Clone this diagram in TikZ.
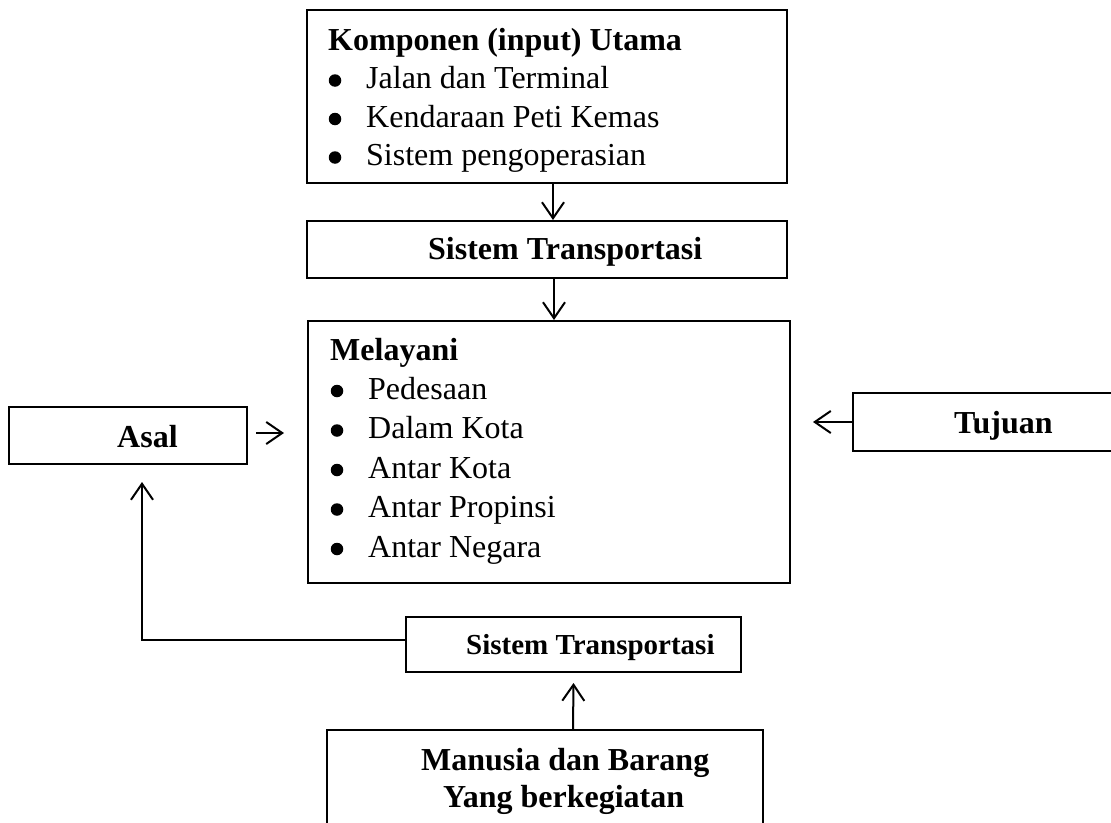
\documentclass[tikz,border=0pt]{standalone}
\usepackage{fontspec}
\setmainfont{Liberation Serif}
\usetikzlibrary{arrows.meta}
\begin{document}
\begin{tikzpicture}[x=1pt,y=-1pt,
  box/.style={draw, line width=2pt, inner sep=0pt},
  txt/.style={anchor=base west, inner sep=0pt, font=\fontsize{32}{38}\selectfont},
  bold/.style={txt, font=\fontsize{32}{38}\selectfont\bfseries},
  boldsmall/.style={txt, font=\fontsize{29}{35}\selectfont\bfseries},
  dot/.style={circle, fill, inner sep=0pt, minimum size=12.5pt, yshift=8pt},
  arr/.style={line width=2pt, -{Straight Barb[length=16pt,width=22pt,line width=2pt]}},
  ]
\useasboundingbox (0,0) rectangle (1111,822);

% boxes
\node[box, minimum width=480pt, minimum height=173pt] (komp) at (547,96.5) {};
\node[box, minimum width=480pt, minimum height=57pt] (st1) at (547,249.5) {};
\node[box, minimum width=482pt, minimum height=262pt] (mel) at (549,452) {};
\node[box, minimum width=238pt, minimum height=57pt] (asal) at (128,435.5) {};
\node[box, minimum width=272pt, minimum height=58pt] (tuj) at (989,422) {};
\node[box, minimum width=335pt, minimum height=55pt] (st2) at (573.5,644.5) {};
\node[box, minimum width=436pt, minimum height=130pt] (man) at (545,795) {};

% main components
\node[bold] (kompT) at (328,50) {Komponen (input) Utama};
\foreach \y/\t [count=\i] in {88.5/Jalan dan Terminal, 127/Kendaraan Peti Kemas, 165.5/Sistem pengoperasian}{
  \node[dot] (kb\i) at (335,\y) {};
  \node[txt] (k\i) at (366,\y) {\t};
}

\node[bold] (st1T) at (428,259) {Sistem Transportasi};

% served areas
\node[bold] (melT) at (330,360) {Melayani};
\foreach \y/\t [count=\i] in {399/Pedesaan, 438.5/Dalam Kota, 478/Antar Kota, 517.5/Antar Propinsi, 557/Antar Negara}{
  \node[dot] (mb\i) at (337,\y) {};
  \node[txt] (m\i) at (368,\y) {\t};
}

\node[bold] (asalT) at (117,447) {Asal};
\node[bold] (tujT) at (954,433) {Tujuan};
\node[boldsmall] (st2T) at (466,654) {Sistem Transportasi};
\node[bold] (man1) at (421,770) {Manusia dan Barang};
\node[bold] (man2) at (443,807) {Yang berkegiatan};

% connectors
\coordinate (asalin) at (284,433);
\coordinate (tujin) at (813,422);
\draw[arr] ([xshift=6pt]komp.south) -- ([xshift=6pt]st1.north);
\draw[arr] ([xshift=7pt]st1.south) -- ([xshift=5pt]mel.north);
\draw[arr] ([xshift=8pt,yshift=2.5pt]asal.east) -- (asalin);
\draw[arr] (tuj.west) -- (tujin);
\draw[arr] ([yshift=4.5pt]st2.west) -| ([xshift=14pt,yshift=-17pt]asal.south);
\draw[arr] ([xshift=28pt]man.north) -- ([yshift=-10pt]st2.south);
\end{tikzpicture}
\end{document}
